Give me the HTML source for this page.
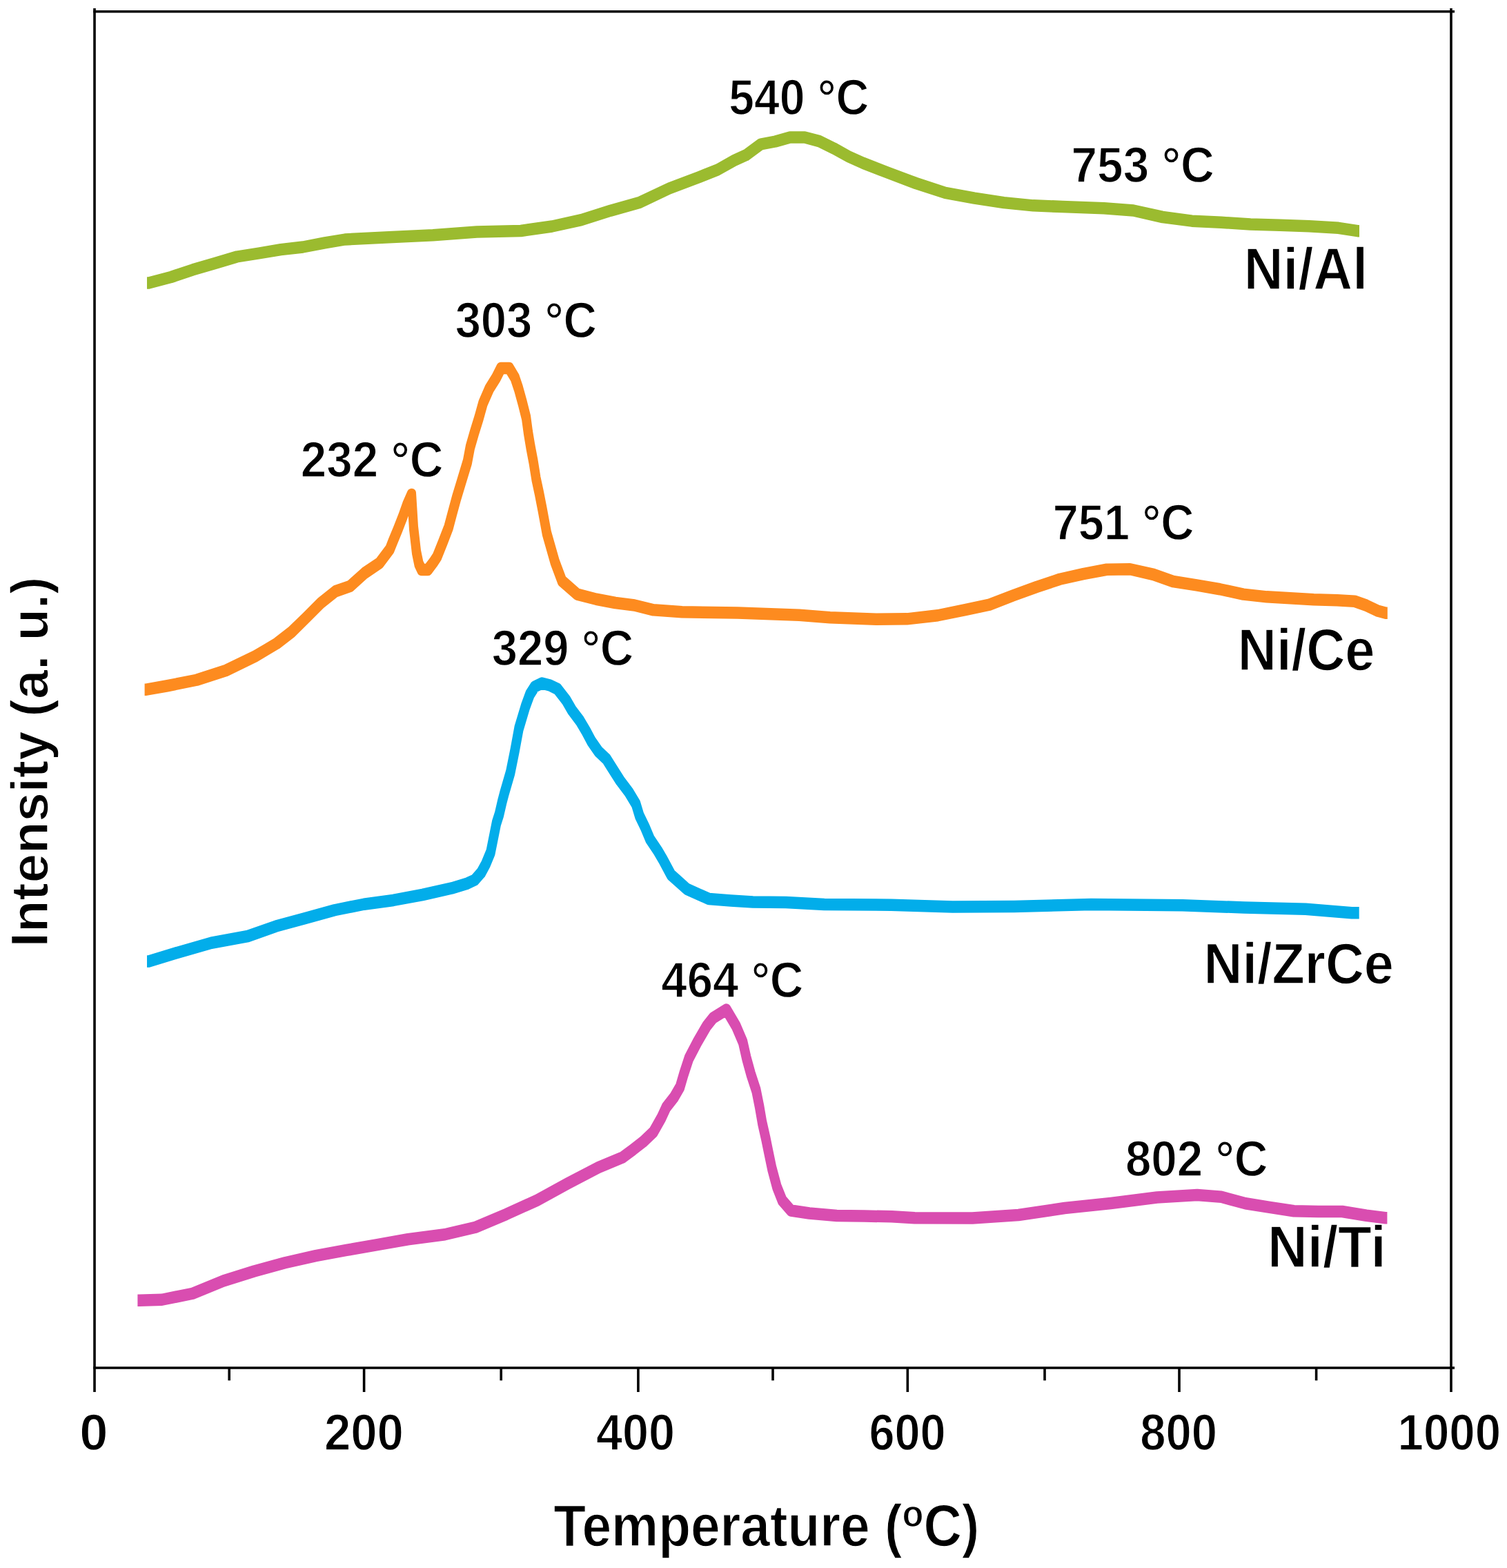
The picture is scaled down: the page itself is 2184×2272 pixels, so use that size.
<!DOCTYPE html>
<html><head><meta charset="utf-8"><title>TPR profiles</title>
<style>
html,body{margin:0;padding:0;background:#fff;}
body{width:2184px;height:2272px;overflow:hidden;}
svg{display:block;}
text{font-family:'Liberation Sans', Arial, sans-serif;font-weight:bold;fill:#000;stroke:#fff;stroke-width:1.4px;stroke-linejoin:round;}
</style></head>
<body>
<svg width="2184" height="2272" viewBox="0 0 2184 2272">
<rect width="2184" height="2272" fill="#fff"/>
<g stroke="#000" stroke-width="3.6" stroke-linecap="butt">
<line x1='137' y1='12' x2='137' y2='2017' />
<line x1='2103' y1='12' x2='2103' y2='2017' />
<line x1='135.2' y1='16.8' x2='2108' y2='16.8' />
<line x1='135.2' y1='1982' x2='2108' y2='1982' />
<line x1='527.6' y1='1982' x2='527.6' y2='2017' />
<line x1='924.9' y1='1982' x2='924.9' y2='2017' />
<line x1='1315.3' y1='1982' x2='1315.3' y2='2017' />
<line x1='1709.0' y1='1982' x2='1709.0' y2='2017' />
<line x1='332.2' y1='1982' x2='332.2' y2='2000.3' />
<line x1='726.2' y1='1982' x2='726.2' y2='2000.3' />
<line x1='1120.0' y1='1982' x2='1120.0' y2='2000.3' />
<line x1='1514.0' y1='1982' x2='1514.0' y2='2000.3' />
<line x1='1907.6' y1='1982' x2='1907.6' y2='2000.3' />
</g>
<g>
<path fill='none' stroke='#9BBB2F' stroke-width='13' stroke-linejoin='round' stroke-linecap='butt' d='M213.0,407.8 L215.5,407.8 L247.8,399.2 L279.6,388.6 L311.5,379.2 L343.3,369.8 L375.0,364.8 L407.0,359.4 L438.9,355.8 L470.7,349.6 L500.0,344.8 L563.7,341.4 L627.4,338.6 L691.0,333.8 L754.8,332.2 L800.0,325.8 L842.5,316.4 L884.9,302.9 L927.4,290.9 L969.9,270.8 L1012.3,254.8 L1040.0,243.8 L1064.2,230.1 L1081.2,222.4 L1102.5,206.8 L1123.7,202.8 L1144.9,196.8 L1166.2,196.7 L1187.4,202.4 L1208.6,212.8 L1229.9,224.6 L1251.1,234.1 L1284.9,247.3 L1327.4,263.2 L1369.9,277.1 L1412.3,284.9 L1454.8,291.4 L1497.2,295.6 L1539.7,297.2 L1600.0,299.4 L1642.5,302.8 L1684.9,312.2 L1727.4,317.9 L1769.9,320.1 L1812.3,322.8 L1854.8,323.9 L1897.2,325.4 L1939.7,328.1 L1967.5,332.4 L1970.0,332.4 M213.0,412.2 L215.5,412.2 L247.8,403.8 L279.6,393.1 L311.5,383.8 L343.3,374.2 L375.0,369.2 L407.0,363.9 L438.9,360.2 L470.7,354.1 L500.0,349.2 L563.7,345.9 L627.4,343.1 L691.0,338.2 L754.8,336.8 L800.0,330.2 L842.5,320.9 L884.9,307.4 L927.4,295.4 L969.9,275.2 L1012.3,259.2 L1040.0,248.2 L1064.2,234.6 L1081.2,226.9 L1102.5,211.2 L1123.7,207.2 L1144.9,201.2 L1166.2,201.2 L1187.4,206.9 L1208.6,217.3 L1229.9,229.1 L1251.1,238.6 L1284.9,251.8 L1327.4,267.8 L1369.9,281.6 L1412.3,289.4 L1454.8,295.9 L1497.2,300.1 L1539.7,301.8 L1600.0,303.9 L1642.5,307.2 L1684.9,316.8 L1727.4,322.4 L1769.9,324.6 L1812.3,327.2 L1854.8,328.4 L1897.2,329.9 L1939.7,332.6 L1967.5,336.9 L1970.0,336.9'/>
<path fill='none' stroke='#FD8B1F' stroke-width='13' stroke-linejoin='round' stroke-linecap='butt' d='M209.6,996.9 L212.1,996.9 L242.5,991.5 L284.9,983.0 L327.4,969.2 L369.9,948.6 L385.3,939.5 L401.2,930.0 L422.5,913.5 L443.7,892.8 L464.9,871.5 L486.2,854.5 L507.4,847.1 L528.6,828.0 L549.9,813.6 L564.9,793.8 L569.0,783.2 L577.0,763.8 L584.0,745.8 L590.0,728.8 L596.5,714.2 L599.5,762.8 L603.5,797.8 L607.0,814.8 L611.0,823.2 L620.0,823.2 L628.0,812.8 L633.4,804.5 L641.9,783.2 L650.1,762.0 L655.7,740.9 L661.5,719.5 L667.9,698.4 L677.4,667.0 L681.4,645.8 L687.5,624.5 L694.1,603.2 L700.0,582.0 L709.2,560.9 L719.1,545.0 L726.0,531.2 L738.0,531.2 L746.2,545.0 L751.5,560.9 L757.3,582.0 L762.6,603.2 L765.5,624.8 L769.0,645.8 L773.0,666.8 L777.0,691.8 L781.5,712.8 L786.0,735.8 L792.4,770.5 L804.2,812.0 L814.5,839.5 L836.6,858.9 L864.2,866.0 L891.8,871.2 L919.4,874.8 L947.0,881.6 L988.4,884.5 L1069.2,885.8 L1158.3,889.0 L1202.9,892.5 L1269.8,895.1 L1314.4,894.6 L1359.0,889.5 L1400.0,881.1 L1434.0,873.9 L1467.9,860.8 L1501.9,848.4 L1535.9,837.0 L1569.9,829.4 L1603.8,823.0 L1637.8,822.5 L1671.8,830.2 L1700.0,840.2 L1734.0,845.6 L1767.9,851.5 L1801.9,858.9 L1835.9,862.6 L1869.9,864.4 L1903.8,866.5 L1937.8,867.4 L1963.3,869.0 L1980.3,875.0 L1997.2,883.0 L2008.3,886.0 L2010.8,886.0 M209.6,1001.4 L212.1,1001.4 L242.5,996.0 L284.9,987.5 L327.4,973.8 L369.9,953.1 L385.3,944.0 L401.2,934.5 L422.5,918.0 L443.7,897.2 L464.9,876.0 L486.2,859.0 L507.4,851.6 L528.6,832.5 L549.9,818.1 L564.9,798.2 L569.0,787.8 L577.0,768.2 L584.0,750.2 L590.0,733.2 L596.5,718.8 L599.5,767.2 L603.5,802.2 L607.0,819.2 L611.0,827.8 L620.0,827.8 L628.0,817.2 L633.4,809.0 L641.9,787.8 L650.1,766.5 L655.7,745.4 L661.5,724.0 L667.9,702.9 L677.4,671.5 L681.4,650.2 L687.5,629.0 L694.1,607.8 L700.0,586.5 L709.2,565.4 L719.1,549.5 L726.0,535.8 L738.0,535.8 L746.2,549.5 L751.5,565.4 L757.3,586.5 L762.6,607.8 L765.5,629.2 L769.0,650.2 L773.0,671.2 L777.0,696.2 L781.5,717.2 L786.0,740.2 L792.4,775.0 L804.2,816.5 L814.5,844.0 L836.6,863.4 L864.2,870.5 L891.8,875.8 L919.4,879.2 L947.0,886.1 L988.4,889.0 L1069.2,890.2 L1158.3,893.5 L1202.9,897.0 L1269.8,899.6 L1314.4,899.1 L1359.0,894.0 L1400.0,885.6 L1434.0,878.4 L1467.9,865.2 L1501.9,852.9 L1535.9,841.5 L1569.9,833.9 L1603.8,827.5 L1637.8,827.0 L1671.8,834.8 L1700.0,844.8 L1734.0,850.1 L1767.9,856.0 L1801.9,863.4 L1835.9,867.1 L1869.9,868.9 L1903.8,871.0 L1937.8,871.9 L1963.3,873.5 L1980.3,879.5 L1997.2,887.5 L2008.3,890.5 L2010.8,890.5'/>
<path fill='none' stroke='#02ADEA' stroke-width='13' stroke-linejoin='round' stroke-linecap='butt' d='M213.0,1390.8 L215.5,1390.8 L253.1,1379.2 L306.2,1364.0 L359.2,1354.2 L400.0,1339.8 L442.5,1328.2 L484.9,1316.5 L527.4,1308.0 L569.9,1302.2 L612.3,1294.2 L654.8,1284.7 L676.0,1278.3 L688.0,1272.8 L697.2,1262.3 L704.0,1249.8 L711.0,1232.7 L719.5,1190.2 L723.5,1177.8 L728.0,1158.3 L730.5,1148.8 L739.7,1117.0 L746.1,1085.2 L752.0,1053.2 L761.5,1021.5 L768.0,1003.8 L775.0,992.8 L785.3,987.8 L797.0,990.8 L808.0,996.2 L820.6,1012.4 L829.1,1027.2 L840.3,1042.0 L849.2,1057.0 L857.0,1071.8 L867.4,1086.7 L879.0,1097.8 L887.8,1111.8 L898.6,1128.8 L911.4,1145.8 L921.6,1162.8 L926.7,1179.8 L934.9,1196.8 L942.0,1213.8 L953.4,1230.8 L961.0,1243.8 L972.5,1265.3 L995.5,1286.0 L1027.4,1300.3 L1059.2,1302.8 L1091.1,1304.7 L1138.9,1305.2 L1194.6,1308.3 L1291.5,1309.0 L1380.6,1311.7 L1469.8,1311.2 L1581.2,1308.3 L1713.7,1309.5 L1802.9,1312.8 L1892.1,1315.0 L1959.0,1320.5 L1967.2,1320.5 L1969.7,1320.5 M213.0,1395.2 L215.5,1395.2 L253.1,1383.7 L306.2,1368.5 L359.2,1358.8 L400.0,1344.3 L442.5,1332.8 L484.9,1321.0 L527.4,1312.5 L569.9,1306.7 L612.3,1298.8 L654.8,1289.2 L676.0,1282.8 L688.0,1277.2 L697.2,1266.8 L704.0,1254.2 L711.0,1237.2 L719.5,1194.8 L723.5,1182.2 L728.0,1162.8 L730.5,1153.3 L739.7,1121.5 L746.1,1089.7 L752.0,1057.8 L761.5,1026.0 L768.0,1008.2 L775.0,997.2 L785.3,992.2 L797.0,995.2 L808.0,1000.8 L820.6,1016.9 L829.1,1031.7 L840.3,1046.5 L849.2,1061.5 L857.0,1076.2 L867.4,1091.2 L879.0,1102.2 L887.8,1116.2 L898.6,1133.2 L911.4,1150.2 L921.6,1167.2 L926.7,1184.2 L934.9,1201.2 L942.0,1218.2 L953.4,1235.2 L961.0,1248.2 L972.5,1269.8 L995.5,1290.5 L1027.4,1304.8 L1059.2,1307.2 L1091.1,1309.2 L1138.9,1309.7 L1194.6,1312.8 L1291.5,1313.5 L1380.6,1316.2 L1469.8,1315.8 L1581.2,1312.8 L1713.7,1314.0 L1802.9,1317.2 L1892.1,1319.5 L1959.0,1325.0 L1967.2,1325.0 L1969.7,1325.0'/>
<path fill='none' stroke='#D94DB0' stroke-width='13' stroke-linejoin='round' stroke-linecap='butt' d='M199.4,1882.0 L201.9,1882.0 L234.6,1881.0 L279.2,1872.0 L323.7,1853.8 L368.3,1839.8 L412.9,1827.5 L457.5,1817.3 L502.1,1809.2 L546.7,1801.3 L591.2,1793.5 L644.6,1786.5 L689.2,1776.0 L733.7,1757.2 L778.3,1737.0 L822.9,1712.5 L867.5,1689.2 L902.3,1674.8 L917.2,1663.7 L932.0,1652.2 L946.9,1638.0 L958.6,1617.2 L965.5,1602.3 L977.0,1587.5 L985.5,1572.7 L990.8,1554.5 L998.4,1531.2 L1010.6,1507.8 L1024.1,1484.5 L1033.4,1472.8 L1052.7,1460.8 L1066.7,1484.5 L1076.6,1507.8 L1081.9,1531.2 L1088.3,1554.5 L1095.9,1577.8 L1100.6,1601.2 L1104.6,1624.5 L1109.9,1648.0 L1113.2,1664.2 L1118.7,1690.8 L1125.8,1717.3 L1133.7,1737.2 L1146.3,1751.8 L1172.9,1755.8 L1212.7,1759.2 L1252.5,1759.8 L1292.3,1760.5 L1325.5,1762.5 L1409.2,1762.8 L1476.0,1758.3 L1542.9,1748.3 L1609.8,1741.2 L1676.7,1732.8 L1735.0,1729.2 L1770.0,1732.0 L1805.1,1741.5 L1840.1,1747.2 L1875.2,1752.5 L1910.2,1753.2 L1945.2,1753.2 L1980.3,1759.0 L2007.9,1762.5 L2010.4,1762.5 M199.4,1886.5 L201.9,1886.5 L234.6,1885.5 L279.2,1876.5 L323.7,1858.2 L368.3,1844.2 L412.9,1832.0 L457.5,1821.8 L502.1,1813.7 L546.7,1805.8 L591.2,1798.0 L644.6,1791.0 L689.2,1780.5 L733.7,1761.7 L778.3,1741.5 L822.9,1717.0 L867.5,1693.7 L902.3,1679.2 L917.2,1668.2 L932.0,1656.7 L946.9,1642.5 L958.6,1621.7 L965.5,1606.8 L977.0,1592.0 L985.5,1577.2 L990.8,1559.0 L998.4,1535.7 L1010.6,1512.3 L1024.1,1489.0 L1033.4,1477.2 L1052.7,1465.2 L1066.7,1489.0 L1076.6,1512.3 L1081.9,1535.7 L1088.3,1559.0 L1095.9,1582.3 L1100.6,1605.8 L1104.6,1629.0 L1109.9,1652.5 L1113.2,1668.8 L1118.7,1695.3 L1125.8,1721.8 L1133.7,1741.8 L1146.3,1756.3 L1172.9,1760.3 L1212.7,1763.7 L1252.5,1764.3 L1292.3,1765.0 L1325.5,1767.0 L1409.2,1767.3 L1476.0,1762.8 L1542.9,1752.8 L1609.8,1745.8 L1676.7,1737.2 L1735.0,1733.8 L1770.0,1736.5 L1805.1,1746.0 L1840.1,1751.7 L1875.2,1757.0 L1910.2,1757.8 L1945.2,1757.8 L1980.3,1763.5 L2007.9,1767.0 L2010.4,1767.0'/>
</g>
<g>
<text transform='translate(1056.32 166.17) scale(0.9097 1)' font-size='72.68'>540 °C</text>
<text transform='translate(1552.60 263.87) scale(0.9265 1)' font-size='72.82'>753 °C</text>
<text transform='translate(659.66 489.37) scale(0.9168 1)' font-size='72.96'>303 °C</text>
<text transform='translate(435.78 691.27) scale(0.9244 1)' font-size='72.82'>232 °C</text>
<text transform='translate(1525.73 782.17) scale(0.9160 1)' font-size='72.82'>751 °C</text>
<text transform='translate(712.76 963.87) scale(0.9190 1)' font-size='72.82'>329 °C</text>
<text transform='translate(958.36 1445.17) scale(0.9200 1)' font-size='72.96'>464 °C</text>
<text transform='translate(1630.88 1703.88) scale(0.9316 1)' font-size='72.25'>802 °C</text>
<text transform='translate(1802.79 419.40) scale(0.9297 1)' font-size='84.64'>Ni/Al</text>
<text transform='translate(1793.86 971.40) scale(0.9198 1)' font-size='84.49'>Ni/Ce</text>
<text transform='translate(1744.48 1425.30) scale(0.9214 1)' font-size='84.06'>Ni/ZrCe</text>
<text transform='translate(1837.01 1836.10) scale(0.9456 1)' font-size='84.49'>Ni/Ti</text>
<text transform='translate(115.23 2101.46) scale(1.0081 1)' font-size='73.66'>0</text>
<text transform='translate(469.93 2101.46) scale(0.9359 1)' font-size='73.66'>200</text>
<text transform='translate(864.03 2101.46) scale(0.9284 1)' font-size='73.66'>400</text>
<text transform='translate(1259.54 2101.46) scale(0.9042 1)' font-size='73.66'>600</text>
<text transform='translate(1652.29 2101.46) scale(0.9096 1)' font-size='73.66'>800</text>
<text transform='translate(2025.56 2101.46) scale(0.9131 1)' font-size='73.66'>1000</text>
<text transform='translate(802.33 2239.80) scale(0.9084 1)' font-size='84.35'>Temperature (<tspan font-size='55.67' dy='-27.83'>o</tspan><tspan dy='27.83'>C)</tspan></text>
<text transform='translate(69.18 1372.22) rotate(-90) scale(0.9972 1)' font-size='76.28'>Intensity (a. u.)</text>
</g>
</svg>
</body></html>
